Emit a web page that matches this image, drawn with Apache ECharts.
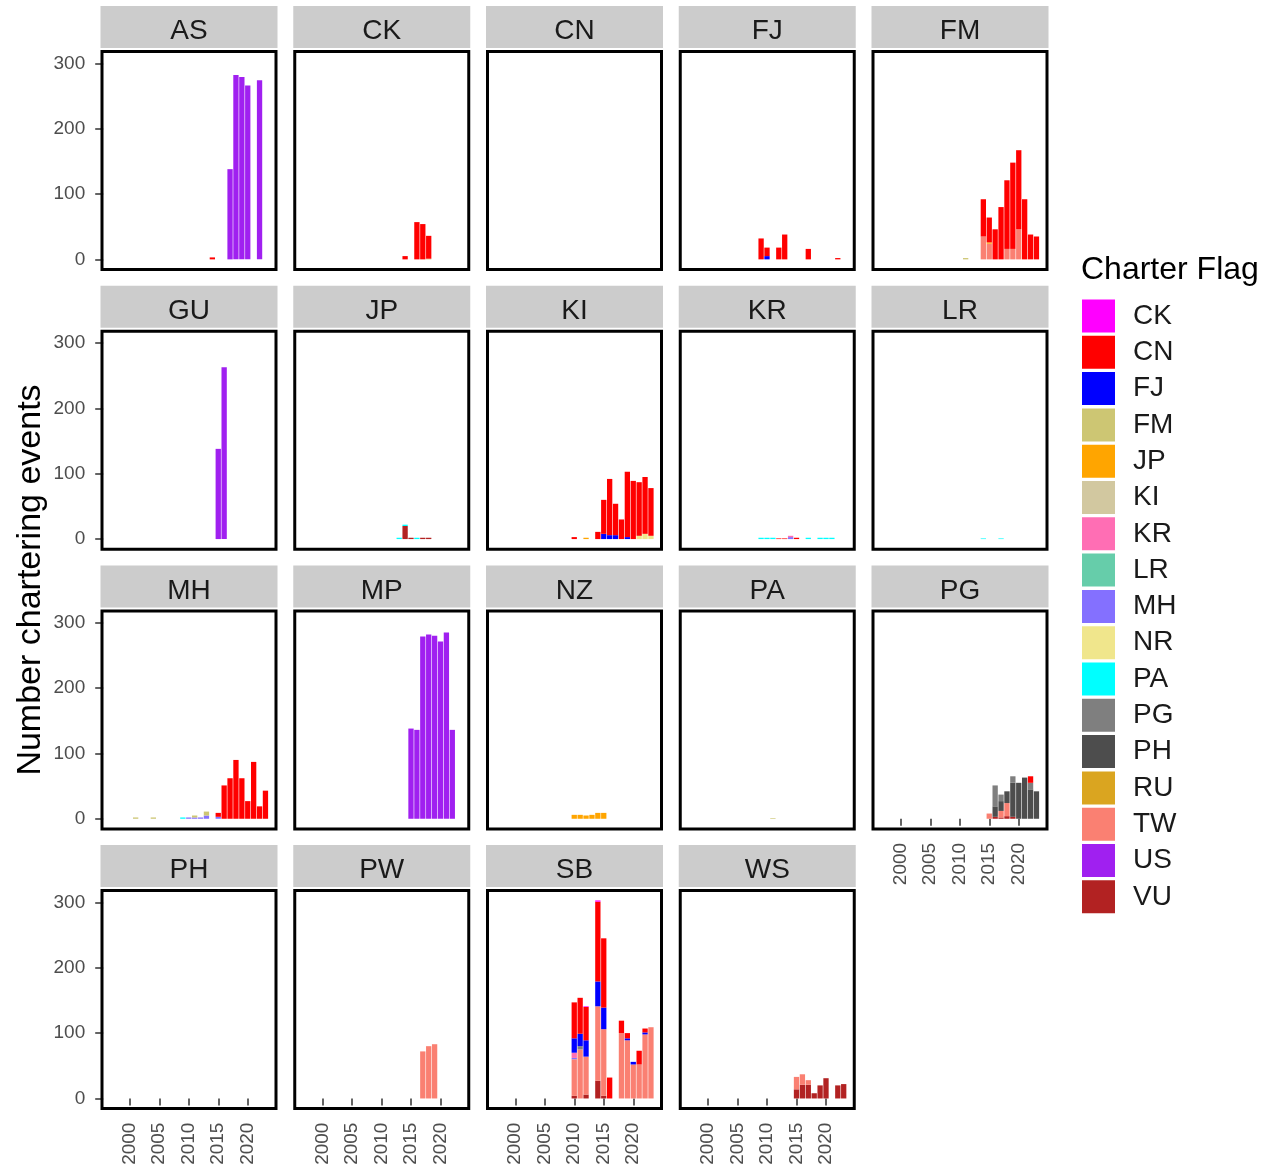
<!DOCTYPE html>
<html>
<head>
<meta charset="utf-8">
<script src="https://cdn.jsdelivr.net/npm/echarts@6/dist/echarts.min.js"></script>
<style>
  html, body { margin: 0; background: #fff; }
  #main { width: 1268px; height: 1170px; }
</style>
</head>
<body>
<div id="main"></div>
<script>
const panelNames = ['AS', 'CK', 'CN', 'FJ', 'FM', 'GU', 'JP', 'KI', 'KR', 'LR', 'MH', 'MP', 'NZ', 'PA', 'PG', 'PH', 'PW', 'SB', 'WS']
const flagNames = ['CK', 'CN', 'FJ', 'FM', 'JP', 'KI', 'KR', 'LR', 'MH', 'NR', 'PA', 'PG', 'PH', 'RU', 'TW', 'US', 'VU']
const flagColors = ['#ff00ff', '#ff0000', '#0000ff', '#cdc673', '#ffa500', '#d2c8a0', '#ff6eb4', '#66cdaa', '#8470ff',
  '#f0e68c', '#00ffff', '#7f7f7f', '#4d4d4d', '#daa520', '#fa8072', '#a020f0', '#b22222']
const years = ['1996', '1997', '1998', '1999', '2000', '2001', '2002', '2003', '2004', '2005', '2006', '2007', '2008', '2009',
  '2010', '2011', '2012', '2013', '2014', '2015', '2016', '2017', '2018', '2019', '2020', '2021', '2022', '2023', '2024']
const yTicks = [0, 100, 200, 300]
const xTicks = ['2000', '2005', '2010', '2015', '2020']

// [year, events] per charter flag, one object per panel
const AS = { CN: [[2014, 3]], US: [[2017, 138], [2018, 282], [2019, 279], [2020, 266], [2022, 274]] }
const CK = { FM: [[2018, 1]], CN: [[2014, 5], [2016, 57], [2017, 54], [2018, 35]] }
const CN = {}
const FJ = { FJ: [[2010, 5]], CN: [[2009, 32], [2010, 13], [2012, 18], [2013, 38], [2017, 16], [2022, 2]] }
const FM = {
  FM: [[2011, 2]],
  TW: [[2014, 35], [2015, 24], [2018, 16], [2019, 16], [2020, 46]],
  JP: [[2015, 2]],
  CN: [[2014, 57], [2015, 38], [2016, 46], [2017, 80], [2018, 105], [2019, 132], [2020, 121], [2021, 92], [2022, 38], [2023, 35]]
}
const GU = { US: [[2015, 138], [2016, 263]] }
const JP = { VU: [[2014, 20], [2015, 2], [2017, 2], [2018, 2]], PA: [[2013, 2], [2014, 2], [2016, 2]] }
const KI = {
  NR: [[2021, 5], [2022, 8], [2023, 5]],
  JP: [[2012, 2]],
  FJ: [[2015, 8], [2016, 6], [2017, 6], [2019, 3]],
  CN: [[2010, 3], [2014, 11], [2015, 52], [2016, 86], [2017, 48], [2018, 30], [2019, 100], [2020, 89], [2021, 82], [2022, 87], [2023, 73]]
}
const KR = {
  PA: [[2009, 2], [2010, 2], [2011, 2], [2017, 2], [2019, 2], [2020, 2], [2021, 2]],
  MH: [[2014, 3]],
  KR: [[2014, 2]],
  CN: [[2012, 1], [2013, 1], [2015, 2]]
}
const LR = { PA: [[2014, 1], [2017, 1]] }
const MH = {
  PA: [[2009, 2]],
  MH: [[2010, 2], [2011, 2], [2012, 2], [2013, 5], [2015, 3]],
  FM: [[2001, 2], [2004, 2], [2011, 3], [2013, 6]],
  CN: [[2015, 6], [2016, 51], [2017, 62], [2018, 90], [2019, 62], [2020, 27], [2021, 87], [2022, 19], [2023, 43]]
}
const MP = { US: [[2015, 138], [2016, 136], [2017, 279], [2018, 282], [2019, 280], [2020, 271], [2021, 285], [2022, 136]] }
const NZ = { JP: [[2010, 6], [2011, 6], [2012, 5], [2013, 6], [2014, 9], [2015, 9]] }
const PA = { FM: [[2011, 1]] }
const PG = {
  VU: [[2016, 3], [2017, 2], [2018, 4], [2019, 3]],
  TW: [[2015, 8], [2017, 10], [2018, 20]],
  PH: [[2016, 16], [2017, 15], [2018, 18], [2019, 52], [2020, 55], [2021, 63], [2022, 45], [2023, 42]],
  PG: [[2016, 32], [2017, 10], [2019, 10], [2022, 10]],
  CN: [[2022, 10]]
}
const PH = {}
const PW = { TW: [[2017, 72], [2018, 80], [2019, 83]] }
const SB = {
  VU: [[2010, 4], [2012, 6], [2014, 27], [2015, 4]],
  TW: [[2010, 56], [2011, 75], [2012, 58], [2014, 114], [2015, 102], [2018, 100], [2019, 89], [2020, 52], [2021, 52], [2022, 98], [2023, 109]],
  PG: [[2011, 5]],
  MH: [[2010, 2]],
  KR: [[2010, 8]],
  FJ: [[2010, 22], [2011, 19], [2012, 25], [2014, 38], [2015, 33], [2019, 3], [2020, 4], [2022, 3]],
  CN: [[2010, 55], [2011, 55], [2012, 51], [2014, 122], [2015, 106], [2016, 32], [2018, 19], [2019, 8], [2021, 21], [2022, 6]],
  CK: [[2012, 1], [2014, 2]]
}
const WS = {
  VU: [[2015, 14], [2016, 21], [2017, 21], [2018, 8], [2019, 20], [2020, 31], [2022, 20], [2023, 22]],
  TW: [[2015, 19], [2016, 16], [2017, 7]]
}

const panelData = { AS, CK, CN, FJ, FM, GU, JP, KI, KR, LR, MH, MP, NZ, PA, PG, PH, PW, SB, WS }

const FONT = '"Liberation Sans", Arial, sans-serif'
const colW = 192.75, rowH = 279.7, fx0 = 102, fy0 = 51.5, fw = 174, fh = 218
const bandW = 5.9 // px per year
const bottomRow = [3, 3, 3, 3, 2]
const stackOrder = flagNames.slice().reverse() // first flag ends up on top
const isTick = (idx, val) => xTicks.includes(val)

const grids = [], xAxes = [], yAxes = [], series = [], graphics = []

// empty series so every flag shows in the legend
flagNames.forEach((f, k) => {
  series.push({ type: 'bar', name: f, xAxisIndex: 0, yAxisIndex: 0, stack: 's0', barWidth: '90%', itemStyle: { color: flagColors[k] }, data: [] })
})

panelNames.forEach((p, i) => {
  const col = i % 5, row = Math.floor(i / 5)
  const left = fx0 + col * colW, top = fy0 + row * rowH
  const isBottom = row === bottomRow[col]
  grids.push({ left: left + 1.2, top, width: bandW * years.length, height: fh, containLabel: false, outerBoundsMode: 'none' })
  xAxes.push({
    gridIndex: i, type: 'category', data: years, boundaryGap: true,
    axisLine: { show: false }, splitLine: { show: false },
    axisTick: { show: isBottom, alignWithLabel: true, interval: isTick, length: 7, lineStyle: { color: '#333', width: 1.5 } },
    axisLabel: { show: isBottom, interval: isTick, rotate: 90, margin: 14, fontSize: 19, color: '#4d4d4d', fontFamily: FONT }
  })
  yAxes.push({
    gridIndex: i, type: 'value', min: -15.5, max: 318,
    axisLine: { show: false }, splitLine: { show: false },
    axisTick: { show: col === 0, customValues: yTicks, length: 8, lineStyle: { color: '#333', width: 1.5 } },
    axisLabel: { show: col === 0, customValues: yTicks, margin: 18, fontSize: 19, color: '#4d4d4d', fontFamily: FONT }
  })
  // panel frame and facet strip
  graphics.push({ type: 'rect', z: 10, shape: { x: left, y: top, width: fw, height: fh }, style: { fill: null, stroke: '#000', lineWidth: 3 } })
  graphics.push({ type: 'rect', shape: { x: left - 1.5, y: top - 45.5, width: fw + 3, height: 42 }, style: { fill: '#cccccc' } })
  graphics.push({ type: 'text', x: left + fw / 2, y: top - 20, style: { text: p, fontSize: 28, fontFamily: FONT, fill: '#1a1a1a', align: 'center', verticalAlign: 'middle' } })

  const d = panelData[p]
  stackOrder.forEach(f => {
    if (!d[f]) return
    const m = new Map(d[f].map(v => [String(v[0]), v[1]]))
    series.push({
      type: 'bar', name: f, xAxisIndex: i, yAxisIndex: i, stack: 's' + i, barWidth: '90%',
      itemStyle: { color: flagColors[flagNames.indexOf(f)] },
      data: years.map(y => m.get(y) || 0)
    })
  })
})

graphics.push({ type: 'text', x: 31, y: 580, rotation: Math.PI / 2, style: { text: 'Number chartering events', fontSize: 34, fontFamily: FONT, fill: '#000', align: 'center', verticalAlign: 'middle' } })
graphics.push({ type: 'text', x: 1081, y: 270, style: { text: 'Charter Flag', fontSize: 32, fontFamily: FONT, fill: '#000', align: 'left', verticalAlign: 'middle' } })

const myChart = echarts.init(document.getElementById('main'))
myChart.setOption({
  animation: false,
  grid: grids,
  xAxis: xAxes,
  yAxis: yAxes,
  series,
  graphic: graphics,
  legend: {
    orient: 'vertical', left: 1082, top: 299.5, padding: 0, itemWidth: 33, itemHeight: 33, itemGap: 3.3,
    icon: 'rect', selectedMode: false, data: flagNames,
    textStyle: { fontSize: 28, fontFamily: FONT, color: '#1a1a1a', padding: [0, 0, 0, 13] }
  }
})
</script>
</body>
</html>
